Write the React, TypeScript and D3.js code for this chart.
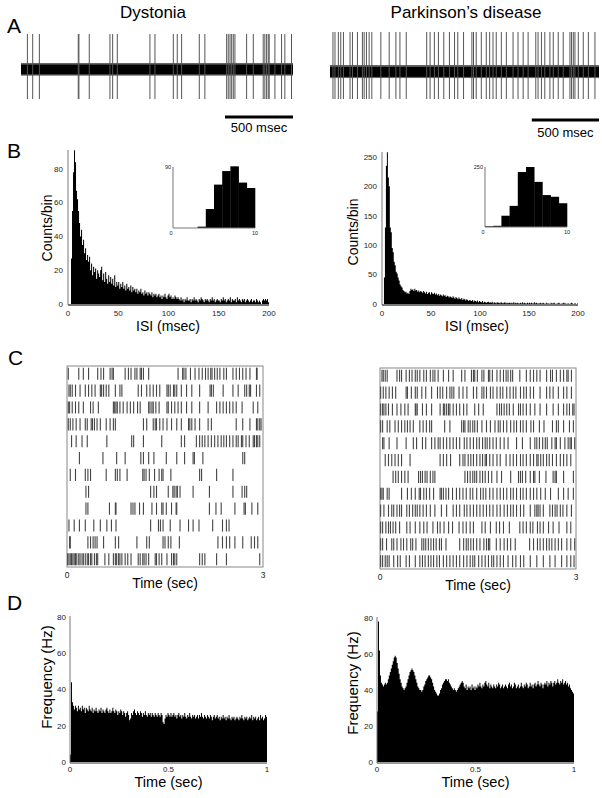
import * as d3 from "d3";

const FONT = "'Liberation Sans', Arial, Helvetica, sans-serif";
const W = 602;
const H = 798;
const TRACE_MS = 2000;

// Panel A: spike times (ms) in the 2 s raw-trace excerpts
const DYST_TRACE_SPIKES = [
  47, 86, 135, 421, 426, 502, 654, 674, 708, 948, 985, 1120, 1149, 1181, 1311, 1352,
  1512, 1524, 1537, 1549, 1561, 1573, 1659, 1708, 1781, 1793, 1806, 1818, 1825, 1867,
  1916, 1940, 1989,
];
const PD_TRACE_SPIKES = [
  22, 37, 62, 80, 100, 149, 167, 204, 241, 254, 271, 291, 311, 378, 440, 490, 520, 567,
  719, 744, 776, 806, 846, 888, 926, 950, 993, 1055, 1067, 1087, 1125, 1162, 1187, 1212,
  1236, 1274, 1311, 1361, 1398, 1436, 1473, 1530, 1547, 1572, 1597, 1635, 1660, 1697,
  1734, 1784, 1796, 1809, 1821, 1846, 1883, 1921, 1970,
];

// Panel B: ISI histograms, 1 ms bins from 0 to 200 ms (counts/bin)
const DYST_ISI = [
  0, 0, 0, 27, 55, 78, 91, 84, 67, 62,
  55, 48, 40, 44, 35, 38, 30, 33, 26, 29,
  25, 28, 20, 24, 17, 22, 19, 21, 15, 20,
  18, 16, 20, 22, 14, 18, 13, 19, 15, 12,
  17, 13, 16, 12, 15, 11, 17, 10, 13, 11,
  13, 9, 12, 10, 13, 9, 11, 8, 12, 9,
  10, 8, 11, 7, 10, 8, 9, 7, 9, 6,
  8, 7, 9, 6, 7, 5, 8, 6, 7, 5,
  7, 6, 5, 7, 4, 6, 5, 6, 4, 5,
  6, 4, 5, 3, 5, 4, 6, 4, 3, 5,
  6, 4, 5, 3, 4, 3, 5, 4, 3, 4,
  3, 2, 4, 2, 3, 1, 3, 2, 4, 2,
  2, 3, 1, 3, 2, 4, 2, 3, 2, 1,
  3, 2, 4, 3, 2, 1, 3, 2, 3, 2,
  1, 3, 2, 4, 2, 3, 1, 2, 3, 2,
  2, 1, 3, 2, 4, 2, 3, 1, 2, 3,
  2, 4, 1, 3, 2, 2, 3, 1, 4, 2,
  3, 2, 1, 3, 2, 3, 1, 2, 3, 2,
  1, 2, 3, 1, 2, 2, 1, 3, 2, 1,
  2, 1, 0, 2, 3, 2, 3, 2, 3, 1,
];
const PD_ISI = [
  0, 0, 45, 130, 235, 258, 215, 200, 130, 122,
  95, 88, 72, 66, 55, 52, 45, 40, 33, 30,
  28, 24, 22, 20, 21, 18, 19, 17, 22, 26,
  24, 25, 22, 26, 23, 24, 21, 23, 20, 22,
  21, 19, 22, 20, 18, 21, 17, 19, 20, 16,
  20, 18, 17, 19, 16, 18, 15, 17, 14, 16,
  15, 13, 16, 14, 15, 12, 14, 13, 11, 13,
  12, 10, 13, 11, 9, 12, 10, 8, 11, 9,
  8, 10, 7, 9, 8, 6, 8, 7, 5, 7,
  6, 5, 7, 4, 6, 5, 4, 6, 3, 5,
  4, 3, 5, 2, 4, 3, 2, 3, 4, 2,
  3, 2, 4, 1, 3, 2, 1, 3, 2, 2,
  1, 3, 2, 1, 2, 3, 1, 2, 1, 2,
  2, 1, 2, 1, 3, 1, 2, 1, 2, 1,
  1, 2, 1, 3, 1, 2, 1, 1, 2, 1,
  2, 1, 2, 1, 1, 3, 1, 2, 1, 1,
  1, 2, 1, 1, 2, 1, 0, 2, 1, 1,
  1, 0, 2, 1, 1, 2, 1, 0, 1, 1,
  2, 1, 0, 1, 1, 2, 1, 1, 0, 1,
  1, 0, 1, 2, 1, 0, 1, 1, 0, 1,
];
// insets: 10 bins from 0 to 10 ms
const DYST_ISI_INSET = [0, 0, 0, 2, 28, 64, 84, 91, 67, 59];
const PD_ISI_INSET = [3, 5, 47, 88, 229, 250, 188, 133, 126, 99];

// Panel C: spike times (s) per trial, 0-3 s
const DYST_RASTER = [
  [0.02, 0.18, 0.25, 0.33, 0.47, 0.52, 0.56, 0.66, 0.69, 0.71, 0.89, 0.94, 0.98, 1.04, 1.07, 1.12, 1.14, 1.17, 1.25, 1.70, 1.77, 1.79, 1.82, 1.89, 1.96, 2.02, 2.07, 2.12, 2.16, 2.20, 2.22, 2.26, 2.30, 2.34, 2.40, 2.44, 2.54, 2.59, 2.64, 2.69, 2.74, 2.80, 2.90, 2.91],
  [0.03, 0.05, 0.08, 0.13, 0.20, 0.28, 0.33, 0.38, 0.43, 0.51, 0.53, 0.56, 0.60, 0.64, 0.74, 0.81, 0.84, 1.09, 1.14, 1.22, 1.27, 1.32, 1.37, 1.42, 1.53, 1.55, 1.58, 1.63, 1.65, 1.68, 1.75, 1.83, 1.91, 2.03, 2.19, 2.21, 2.24, 2.39, 2.54, 2.62, 2.72, 2.75, 2.79, 2.81, 2.90, 2.95],
  [0.02, 0.04, 0.08, 0.13, 0.18, 0.25, 0.36, 0.40, 0.48, 0.71, 0.73, 0.75, 0.77, 0.81, 0.86, 0.92, 0.97, 1.02, 1.08, 1.12, 1.25, 1.27, 1.30, 1.32, 1.36, 1.41, 1.53, 1.55, 1.60, 1.65, 1.70, 1.75, 1.83, 1.91, 2.03, 2.16, 2.29, 2.34, 2.39, 2.44, 2.49, 2.54, 2.59, 2.68, 2.85, 2.92],
  [0.02, 0.05, 0.09, 0.14, 0.20, 0.28, 0.31, 0.37, 0.39, 0.42, 0.46, 0.51, 0.60, 0.66, 0.71, 0.74, 1.17, 1.22, 1.32, 1.35, 1.37, 1.42, 1.47, 1.53, 1.60, 1.68, 1.75, 1.86, 1.88, 1.91, 1.96, 2.03, 2.16, 2.21, 2.59, 2.69, 2.80, 2.90, 2.92, 2.95, 2.97],
  [0.07, 0.14, 0.23, 0.31, 0.61, 0.99, 1.02, 1.17, 1.45, 1.75, 1.80, 1.98, 2.03, 2.07, 2.11, 2.16, 2.21, 2.26, 2.31, 2.36, 2.40, 2.44, 2.49, 2.54, 2.59, 2.62, 2.67, 2.69, 2.74, 2.79, 2.85, 2.87, 2.90, 2.92, 2.95],
  [0.19, 0.55, 0.76, 0.89, 1.13, 1.17, 1.25, 1.33, 1.52, 1.68, 1.80, 1.93, 1.95, 2.08, 2.69, 2.72],
  [0.05, 0.13, 0.28, 0.32, 0.36, 0.60, 0.74, 0.77, 0.81, 0.92, 1.16, 1.18, 1.21, 1.26, 1.34, 1.41, 1.45, 1.47, 1.59, 2.03, 2.06, 2.29, 2.54],
  [0.29, 0.33, 1.28, 1.33, 1.37, 1.55, 1.62, 1.64, 1.67, 1.69, 1.73, 1.93, 2.18, 2.54, 2.68, 2.72, 2.75],
  [0.29, 0.32, 0.65, 0.74, 0.75, 0.98, 1.01, 1.04, 1.11, 1.17, 1.30, 1.37, 1.45, 1.47, 1.52, 1.60, 1.67, 1.68, 2.18, 2.28, 2.36, 2.57, 2.71, 2.73, 2.83, 2.92],
  [0.03, 0.11, 0.19, 0.28, 0.41, 0.51, 0.61, 0.68, 0.75, 1.28, 1.40, 1.43, 1.47, 1.58, 1.73, 1.86, 1.93, 2.02, 2.23, 2.38, 2.44, 2.48],
  [0.04, 0.05, 0.32, 0.36, 0.40, 0.43, 0.46, 0.56, 0.74, 0.79, 1.07, 1.22, 1.26, 1.47, 1.50, 1.55, 1.59, 1.72, 2.31, 2.38, 2.44, 2.49, 2.57, 2.69, 2.82, 2.87, 2.92],
  [0.01, 0.03, 0.05, 0.07, 0.09, 0.11, 0.13, 0.15, 0.18, 0.20, 0.23, 0.25, 0.28, 0.31, 0.33, 0.36, 0.38, 0.42, 0.45, 0.47, 0.58, 0.64, 0.71, 0.74, 0.76, 0.79, 0.81, 0.84, 0.89, 0.93, 0.98, 1.09, 1.12, 1.16, 1.18, 1.21, 1.25, 1.35, 1.37, 1.41, 1.45, 1.53, 1.60, 1.63, 1.65, 1.68, 2.03, 2.07, 2.11, 2.29, 2.44, 2.95],
];
const PD_RASTER = [
  [0.03, 0.05, 0.08, 0.11, 0.26, 0.30, 0.33, 0.40, 0.45, 0.49, 0.54, 0.57, 0.61, 0.67, 0.71, 0.77, 0.81, 0.84, 0.89, 0.97, 1.05, 1.12, 1.25, 1.30, 1.40, 1.43, 1.45, 1.49, 1.56, 1.59, 1.66, 1.68, 1.72, 1.79, 1.84, 1.89, 1.93, 1.96, 2.00, 2.03, 2.14, 2.24, 2.30, 2.35, 2.40, 2.45, 2.55, 2.61, 2.64, 2.70, 2.76, 2.81, 2.86, 2.88, 2.93],
  [0.01, 0.05, 0.09, 0.14, 0.19, 0.24, 0.40, 0.42, 0.48, 0.54, 0.57, 0.64, 0.70, 0.79, 0.88, 0.92, 0.96, 1.02, 1.07, 1.10, 1.13, 1.21, 1.27, 1.33, 1.43, 1.48, 1.56, 1.59, 1.63, 1.69, 1.73, 1.79, 1.84, 1.88, 1.94, 1.99, 2.04, 2.08, 2.15, 2.20, 2.24, 2.30, 2.35, 2.45, 2.55, 2.60, 2.65, 2.73, 2.81, 2.86, 2.93],
  [0.01, 0.04, 0.06, 0.09, 0.13, 0.19, 0.26, 0.32, 0.38, 0.43, 0.54, 0.55, 0.57, 0.65, 0.71, 0.79, 0.92, 0.97, 0.99, 1.02, 1.05, 1.07, 1.12, 1.17, 1.22, 1.28, 1.33, 1.45, 1.51, 1.58, 1.79, 1.83, 1.86, 1.90, 1.94, 1.98, 2.04, 2.12, 2.15, 2.19, 2.24, 2.30, 2.37, 2.45, 2.55, 2.65, 2.73, 2.81, 2.86, 2.90, 2.95, 2.97],
  [0.01, 0.04, 0.11, 0.15, 0.23, 0.28, 0.33, 0.38, 0.42, 0.46, 0.51, 0.61, 0.66, 0.71, 0.76, 0.79, 0.99, 1.07, 1.25, 1.28, 1.30, 1.35, 1.38, 1.42, 1.45, 1.49, 1.56, 1.63, 1.69, 1.76, 1.81, 1.84, 1.89, 1.94, 2.00, 2.05, 2.09, 2.15, 2.19, 2.24, 2.31, 2.35, 2.44, 2.51, 2.64, 2.70, 2.73, 2.81, 2.90, 2.96],
  [0.04, 0.06, 0.14, 0.26, 0.40, 0.51, 0.56, 0.65, 0.70, 0.79, 0.84, 0.89, 0.92, 0.97, 1.02, 1.07, 1.12, 1.17, 1.22, 1.29, 1.33, 1.38, 1.43, 1.48, 1.52, 1.57, 1.61, 1.64, 1.68, 1.73, 1.78, 1.84, 1.90, 1.96, 2.09, 2.18, 2.30, 2.37, 2.40, 2.44, 2.49, 2.53, 2.56, 2.63, 2.68, 2.70, 2.76, 2.83, 2.88, 2.91, 2.93, 2.98],
  [0.08, 0.13, 0.18, 0.23, 0.28, 0.33, 0.46, 0.92, 0.97, 1.02, 1.08, 1.22, 1.27, 1.30, 1.35, 1.39, 1.43, 1.48, 1.53, 1.57, 1.61, 1.63, 1.68, 1.73, 1.79, 1.84, 1.93, 1.99, 2.04, 2.09, 2.15, 2.19, 2.24, 2.30, 2.35, 2.40, 2.42, 2.46, 2.50, 2.55, 2.59, 2.64, 2.70, 2.76, 2.81, 2.86, 2.92],
  [0.20, 0.24, 0.28, 0.33, 0.38, 0.43, 0.59, 0.62, 0.65, 0.69, 0.72, 0.77, 0.81, 0.84, 1.30, 1.34, 1.38, 1.42, 1.45, 1.48, 1.53, 1.57, 1.61, 1.66, 1.71, 1.79, 1.86, 2.00, 2.12, 2.15, 2.18, 2.23, 2.30, 2.35, 2.37, 2.44, 2.54, 2.65, 2.68, 2.70, 2.81, 2.96],
  [0.01, 0.03, 0.05, 0.11, 0.14, 0.33, 0.42, 0.48, 0.54, 0.60, 0.62, 0.67, 0.71, 0.76, 0.82, 0.92, 0.94, 0.97, 1.01, 1.05, 1.11, 1.17, 1.22, 1.27, 1.32, 1.38, 1.42, 1.48, 1.54, 1.58, 1.62, 1.68, 1.73, 1.79, 1.84, 1.89, 1.94, 2.00, 2.04, 2.09, 2.15, 2.19, 2.24, 2.30, 2.35, 2.40, 2.46, 2.53, 2.61, 2.73, 2.81, 2.88, 2.96],
  [0.01, 0.06, 0.13, 0.18, 0.21, 0.26, 0.30, 0.33, 0.41, 0.45, 0.50, 0.54, 0.57, 0.61, 0.66, 0.71, 0.77, 0.84, 0.94, 1.02, 1.12, 1.17, 1.22, 1.29, 1.33, 1.38, 1.43, 1.48, 1.53, 1.58, 1.63, 1.68, 1.73, 1.79, 1.84, 1.90, 1.95, 2.00, 2.04, 2.09, 2.15, 2.20, 2.30, 2.37, 2.40, 2.42, 2.45, 2.50, 2.60, 2.64, 2.68, 2.71, 2.76, 2.80, 2.86, 2.93],
  [0.01, 0.04, 0.09, 0.13, 0.16, 0.20, 0.24, 0.30, 0.41, 0.46, 0.54, 0.61, 0.67, 0.72, 0.81, 0.88, 0.92, 0.98, 1.05, 1.11, 1.21, 1.27, 1.32, 1.38, 1.43, 1.56, 1.61, 1.69, 1.78, 1.83, 1.89, 1.98, 2.14, 2.19, 2.24, 2.30, 2.34, 2.41, 2.45, 2.50, 2.58, 2.65, 2.74, 2.86, 2.92],
  [0.01, 0.04, 0.10, 0.18, 0.21, 0.26, 0.32, 0.36, 0.41, 0.47, 0.50, 0.55, 0.64, 0.67, 0.70, 0.74, 0.78, 0.82, 0.86, 0.91, 0.94, 1.01, 1.22, 1.28, 1.32, 1.35, 1.39, 1.43, 1.48, 1.53, 1.59, 1.63, 1.66, 1.68, 1.78, 1.84, 1.90, 1.95, 2.00, 2.07, 2.29, 2.35, 2.41, 2.45, 2.50, 2.55, 2.59, 2.63, 2.68, 2.73, 2.78, 2.86, 2.92, 2.98],
  [0.01, 0.04, 0.08, 0.11, 0.14, 0.21, 0.27, 0.31, 0.40, 0.45, 0.54, 0.61, 0.65, 0.69, 0.74, 0.78, 0.82, 0.87, 0.91, 0.97, 1.02, 1.07, 1.12, 1.17, 1.22, 1.28, 1.33, 1.38, 1.42, 1.45, 1.51, 1.56, 1.61, 1.66, 1.71, 1.74, 1.79, 1.84, 1.89, 1.96, 2.03, 2.08, 2.15, 2.20, 2.30, 2.40, 2.50, 2.60, 2.68, 2.78, 2.86, 2.92, 2.97],
];

// Panel D: peri-event firing rate (Hz), 5 ms bins from 0 to 1 s
const DYST_PSTH = [
  4, 44, 33, 31, 29, 31, 30, 28, 31, 29,
  30, 28, 31, 29, 30, 27, 30, 29, 28, 31,
  29, 28, 30, 27, 29, 28, 30, 28, 27, 29,
  28, 30, 27, 29, 28, 27, 29, 30, 28, 27,
  29, 27, 28, 30, 28, 27, 29, 28, 26, 28,
  27, 29, 28, 26, 28, 27, 25, 27, 28, 26,
  23, 24, 27, 26, 28, 29, 27, 26, 28, 27,
  26, 28, 27, 25, 27, 26, 28, 26, 25, 27,
  26, 27, 25, 27, 26, 25, 27, 26, 25, 27,
  26, 25, 27, 26, 22, 21, 24, 26, 25, 27,
  26, 25, 27, 25, 26, 27, 25, 26, 24, 26,
  27, 25, 26, 24, 26, 25, 27, 25, 24, 26,
  25, 27, 25, 24, 26, 25, 26, 24, 25, 26,
  24, 26, 25, 27, 25, 24, 26, 25, 24, 26,
  25, 24, 26, 25, 23, 25, 26, 24, 25, 26,
  24, 25, 23, 25, 24, 26, 24, 25, 23, 25,
  24, 26, 24, 23, 25, 24, 25, 23, 24, 25,
  24, 23, 25, 24, 26, 24, 23, 25, 24, 25,
  23, 24, 25, 24, 26, 23, 25, 24, 25, 23,
  24, 25, 23, 26, 24, 25, 23, 24, 26, 25,
];
const PD_PSTH = [
  28, 78, 62, 48, 44, 43, 42, 43, 44, 43,
  44, 46, 48, 50, 52, 54, 56, 58, 59, 58,
  55, 52, 49, 46, 44, 42, 41, 40, 41, 42,
  44, 46, 48, 50, 51, 52, 51, 50, 48, 46,
  44, 42, 41, 40, 40, 39, 40, 42, 43, 45,
  46, 47, 48, 48, 47, 46, 44, 42, 40, 39,
  38, 37, 37, 38, 40, 41, 43, 44, 45, 46,
  46, 45, 46, 44, 43, 42, 41, 40, 41, 40,
  39, 40, 41, 42, 43, 44, 45, 44, 42, 41,
  43, 40, 42, 41, 42, 40, 43, 41, 42, 40,
  42, 41, 43, 42, 44, 42, 41, 43, 42, 44,
  45, 43, 42, 44, 41, 43, 42, 41, 43, 42,
  41, 43, 42, 44, 43, 41, 42, 43, 41, 42,
  43, 42, 41, 43, 44, 42, 43, 41, 42, 44,
  43, 41, 42, 43, 41, 42, 44, 42, 41, 43,
  42, 44, 43, 41, 42, 44, 42, 43, 41, 43,
  44, 42, 43, 45, 43, 42, 44, 43, 41, 43,
  44, 43, 45, 42, 44, 43, 45, 44, 42, 44,
  45, 43, 44, 46, 44, 43, 45, 44, 46, 43,
  44, 45, 43, 44, 42, 43, 41, 40, 39, 38,
];

const ISI_X_TICKS = [0, 50, 100, 150, 200];
const DYST_ISI_Y_TICKS = [0, 20, 40, 60, 80];
const PD_ISI_Y_TICKS = [0, 50, 100, 150, 200, 250];
const PSTH_X_TICKS = [0, 0.5, 1];
const PSTH_Y_TICKS = [0, 20, 40, 60, 80];

const AXIS = "#777";
const TICK_TXT = "#222";

type TraceProps = {
  spikes: number[];
  x0: number;
  x1: number;
  base: number;
  top: number;
  bottom: number;
  barY: number;
  labelY: number;
};

function Trace({ spikes, x0, x1, base, top, bottom, barY, labelY }: TraceProps) {
  const x = d3.scaleLinear().domain([0, TRACE_MS]).range([x0, x1]);
  // amplitude in arbitrary units: 0 = baseline
  const y = d3.scaleLinear().domain([-1, 0, 1]).range([bottom, base, top]);
  const noise = 0.15;
  return (
    <g>
      <rect x={x0} width={x1 - x0} y={y(noise * 1.3)} height={y(-noise * 1.3) - y(noise * 1.3)} fill="#666" />
      <rect x={x0} width={x1 - x0} y={y(noise)} height={y(-noise) - y(noise)} fill="#000" />
      {spikes.map((t, i) => (
        <line key={i} x1={x(t)} x2={x(t)} y1={y(1)} y2={y(-1)} stroke="#555" strokeWidth={1} />
      ))}
      <line x1={x(TRACE_MS - 500)} x2={x(TRACE_MS)} y1={barY} y2={barY} stroke="#000" strokeWidth={3} />
      <text x={(x(TRACE_MS - 500) + x(TRACE_MS)) / 2} y={labelY} textAnchor="middle" fontSize={13}>
        500 msec
      </text>
    </g>
  );
}

type HistProps = {
  counts: number[];
  inset: number[];
  yTicks: number[];
  yMax: number;
  x0: number;
  x1: number;
  y0: number;
  yTop: number;
  axisTop: number;
  ins: { x0: number; x1: number; y0: number; yTop: number; max: number; label: string };
};

function IsiHist({ counts, inset, yTicks, yMax, x0, x1, y0, yTop, axisTop, ins }: HistProps) {
  const x = d3.scaleLinear().domain([0, counts.length]).range([x0, x1]);
  const y = d3.scaleLinear().domain([0, yMax]).range([y0, yTop]);
  const pts: [number, number][] = counts.map((c, i) => [i, c]);
  pts.push([counts.length, counts[counts.length - 1]]);
  const area = d3
    .area<[number, number]>()
    .x((d) => x(d[0]))
    .y0(y(0))
    .y1((d) => y(d[1]))
    .curve(d3.curveStepAfter);

  const ix = d3.scaleLinear().domain([0, inset.length]).range([ins.x0, ins.x1]);
  const iy = d3.scaleLinear().domain([0, ins.max]).range([ins.y0, ins.yTop]);

  return (
    <g>
      <path d={area(pts) ?? ""} fill="#000" />
      <line x1={x0} x2={x1} y1={y0 + 1} y2={y0 + 1} stroke={AXIS} strokeWidth={2} />
      <line x1={x0} x2={x0} y1={y0 + 1} y2={axisTop} stroke={AXIS} strokeWidth={1} />
      {yTicks.map((t) => (
        <text key={t} x={x0 - 5} y={y(t)} dy="0.35em" textAnchor="end" fontSize={8} fill={TICK_TXT}>
          {t}
        </text>
      ))}
      {ISI_X_TICKS.map((t) => (
        <text key={t} x={x(t)} y={y0 + 12} textAnchor="middle" fontSize={8} fill={TICK_TXT}>
          {t}
        </text>
      ))}
      {/* inset */}
      {inset.map((c, i) => (
        <rect key={i} x={ix(i)} width={ix(i + 1) - ix(i) + 0.3} y={iy(c)} height={iy(0) - iy(c)} fill="#000" />
      ))}
      <line x1={ins.x0} x2={ins.x1} y1={ins.y0} y2={ins.y0} stroke={AXIS} strokeWidth={1} />
      <line x1={ins.x0} x2={ins.x0} y1={ins.y0} y2={ins.yTop} stroke={AXIS} strokeWidth={1} />
      <text x={ins.x0 - 2} y={ins.yTop + 2} textAnchor="end" fontSize={5.5} fill={TICK_TXT}>
        {ins.label}
      </text>
      <text x={ins.x0 - 2} y={ins.y0 + 7} textAnchor="middle" fontSize={5.5} fill={TICK_TXT}>
        0
      </text>
      <text x={ins.x1} y={ins.y0 + 7} textAnchor="middle" fontSize={5.5} fill={TICK_TXT}>
        10
      </text>
    </g>
  );
}

type RasterProps = { trials: number[][]; x0: number; x1: number; y0: number; y1: number };

function Raster({ trials, x0, x1, y0, y1 }: RasterProps) {
  const x = d3.scaleLinear().domain([0, 3]).range([x0, x1]);
  const row = d3
    .scaleBand<number>()
    .domain(d3.range(trials.length))
    .range([y0, y1])
    .paddingInner(0.28)
    .paddingOuter(0.1);
  return (
    <g>
      <rect x={x0} y={y0} width={x1 - x0} height={y1 - y0} fill="none" stroke="#888" strokeWidth={1} />
      {trials.map((spikes, r) =>
        spikes.map((t, i) => (
          <line
            key={`${r}-${i}`}
            x1={x(t)}
            x2={x(t)}
            y1={row(r)!}
            y2={row(r)! + row.bandwidth()}
            stroke="#444"
            strokeWidth={1.1}
          />
        )),
      )}
      <text x={x(0)} y={y1 + 11} textAnchor="middle" fontSize={8.5} fill={TICK_TXT}>
        0
      </text>
      <text x={x(3)} y={y1 + 11} textAnchor="middle" fontSize={8.5} fill={TICK_TXT}>
        3
      </text>
      <text x={(x0 + x1) / 2} y={y1 + 21} textAnchor="middle" fontSize={14}>
        Time (sec)
      </text>
    </g>
  );
}

type PsthProps = { rate: number[]; x0: number; x1: number; y0: number; yTop: number };

function Psth({ rate, x0, x1, y0, yTop }: PsthProps) {
  const x = d3.scaleLinear().domain([0, 1]).range([x0, x1]);
  const y = d3.scaleLinear().domain([0, 80]).range([y0, yTop]);
  const bin = 1 / rate.length;
  const pts: [number, number][] = rate.map((v, i) => [i * bin, v]);
  pts.push([1, rate[rate.length - 1]]);
  const area = d3
    .area<[number, number]>()
    .x((d) => x(d[0]))
    .y0(y(0))
    .y1((d) => y(d[1]))
    .curve(d3.curveStepAfter);
  return (
    <g>
      <path d={area(pts) ?? ""} fill="#000" />
      <line x1={x0} x2={x1} y1={y0 + 1} y2={y0 + 1} stroke={AXIS} strokeWidth={1.5} />
      <line x1={x0} x2={x0} y1={y0 + 1} y2={yTop - 1} stroke={AXIS} strokeWidth={1} />
      {PSTH_Y_TICKS.map((t) => (
        <text key={t} x={x0 - 4} y={y(t)} dy="0.35em" textAnchor="end" fontSize={8} fill={TICK_TXT}>
          {t}
        </text>
      ))}
      {PSTH_X_TICKS.map((t) => (
        <text key={t} x={x(t)} y={y0 + 10} textAnchor="middle" fontSize={8} fill={TICK_TXT}>
          {t}
        </text>
      ))}
      <text x={(x0 + x1) / 2} y={y0 + 24.5} textAnchor="middle" fontSize={14.5}>
        Time (sec)
      </text>
    </g>
  );
}

function VLabel({ x, y, text, size }: { x: number; y: number; text: string; size: number }) {
  return (
    <text transform={`translate(${x},${y}) rotate(-90)`} textAnchor="middle" dy="0.35em" fontSize={size}>
      {text}
    </text>
  );
}

export default function App() {
  return (
    <svg
      width={W}
      height={H}
      style={{ position: "absolute", left: 0, top: 0, background: "#fff", fontFamily: FONT }}
    >
      <rect width={W} height={H} fill="#fff" />
      {/* titles and panel letters */}
      <text x={153} y={18} textAnchor="middle" fontSize={17}>
        Dystonia
      </text>
      <text x={466} y={18} textAnchor="middle" fontSize={17}>
        Parkinson’s disease
      </text>
      <text x={7} y={33} fontSize={21}>A</text>
      <text x={7} y={158} fontSize={21}>B</text>
      <text x={8} y={365} fontSize={21}>C</text>
      <text x={7} y={610} fontSize={21}>D</text>

      {/* A */}
      <Trace spikes={DYST_TRACE_SPIKES} x0={21} x1={293} base={70} top={34} bottom={99} barY={117} labelY={132} />
      <Trace spikes={PD_TRACE_SPIKES} x0={330} x1={599} base={73} top={32} bottom={99} barY={120} labelY={137} />

      {/* B */}
      <IsiHist
        counts={DYST_ISI}
        inset={DYST_ISI_INSET}
        yTicks={DYST_ISI_Y_TICKS}
        yMax={90}
        x0={68}
        x1={269}
        y0={304}
        yTop={152}
        axisTop={150}
        ins={{ x0: 173, x1: 255, y0: 228, yTop: 167, max: 90, label: "90" }}
      />
      <IsiHist
        counts={PD_ISI}
        inset={PD_ISI_INSET}
        yTicks={PD_ISI_Y_TICKS}
        yMax={260}
        x0={382}
        x1={578}
        y0={304}
        yTop={151}
        axisTop={152}
        ins={{ x0: 485, x1: 567, y0: 227, yTop: 167, max: 250, label: "250" }}
      />
      <VLabel x={47} y={228} text="Counts/bin" size={14} />
      <VLabel x={353} y={232} text="Counts/bin" size={14} />
      <text x={168} y={331} textAnchor="middle" fontSize={14}>ISI (msec)</text>
      <text x={477} y={331} textAnchor="middle" fontSize={14}>ISI (msec)</text>

      {/* C */}
      <Raster trials={DYST_RASTER} x0={67} x1={263} y0={366} y1={567} />
      <Raster trials={PD_RASTER} x0={380} x1={576} y0={368} y1={569} />

      {/* D */}
      <Psth rate={DYST_PSTH} x0={70} x1={267} y0={762} yTop={617} />
      <Psth rate={PD_PSTH} x0={377} x1={574} y0={762} yTop={618} />
      <VLabel x={47} y={677} text="Frequency (Hz)" size={15} />
      <VLabel x={353} y={683} text="Frequency (Hz)" size={15} />
    </svg>
  );
}
